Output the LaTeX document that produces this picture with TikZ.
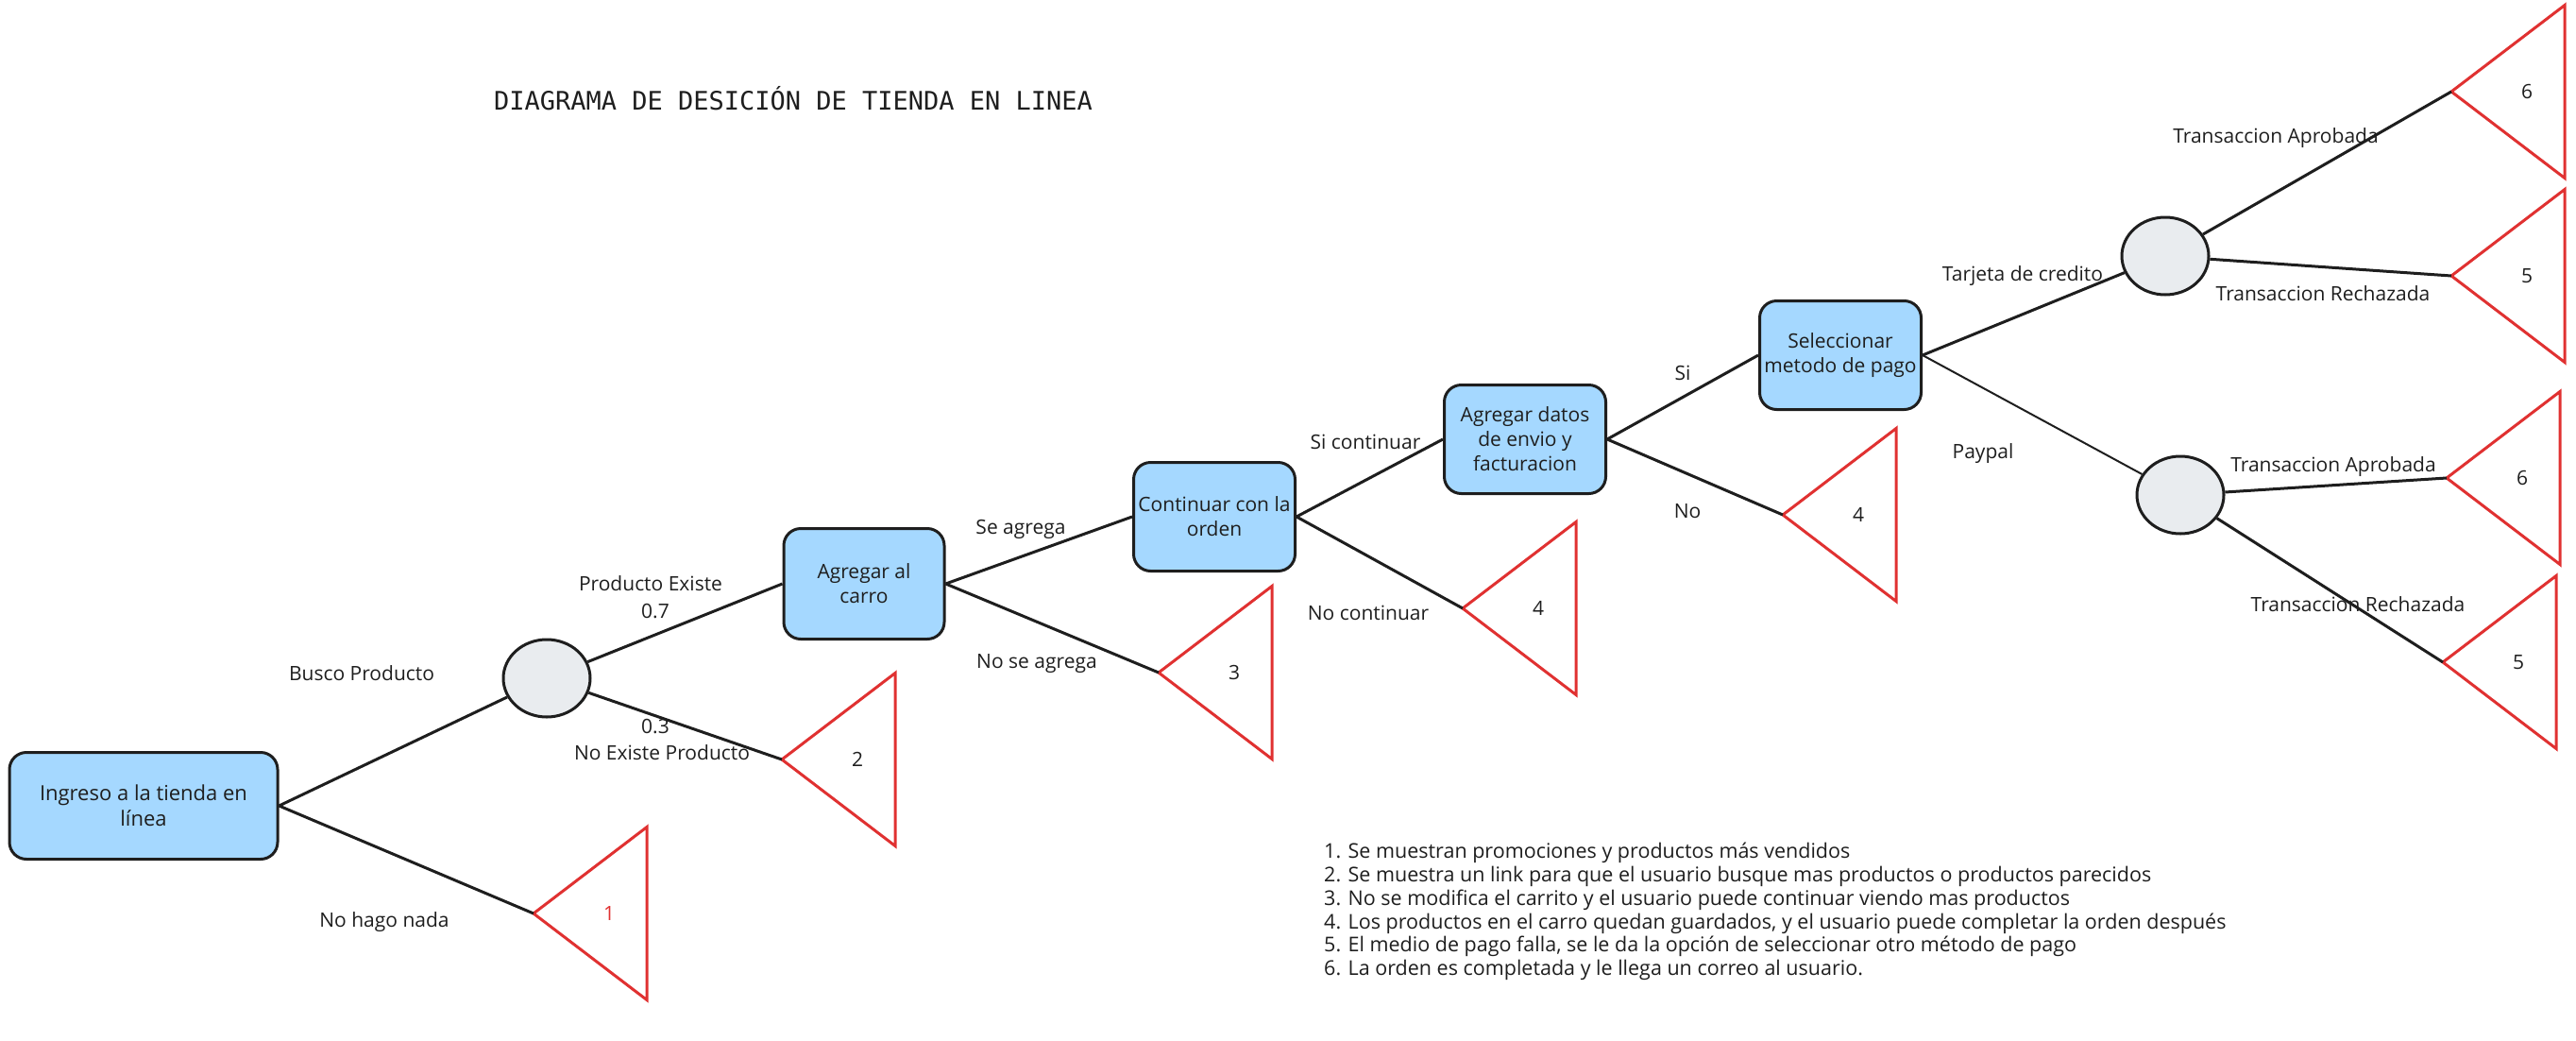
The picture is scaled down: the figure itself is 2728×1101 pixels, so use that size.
\documentclass[tikz,border=0pt]{standalone}
\usepackage{fontspec}
\setmainfont{Open Sans}
\newfontfamily\titlefont{DejaVu Sans Mono}
\usetikzlibrary{shapes.geometric}
\definecolor{boxblue}{HTML}{A5D8FF}
\definecolor{chancegray}{HTML}{E9ECEF}
\definecolor{leafred}{HTML}{E03131}
\definecolor{ink}{HTML}{1E1E1E}
\begin{document}
\begin{tikzpicture}[x=1pt, y=-1pt,
    font=\fontsize{21}{26}\selectfont,
    decision/.style={draw=ink, line width=3pt, fill=boxblue, rounded corners=18pt,
        minimum width=171pt, minimum height=115pt, align=center, text=ink, inner sep=3pt},
    chance/.style={draw=ink, line width=3pt, fill=chancegray, ellipse,
        minimum width=92pt, minimum height=82pt, inner sep=0pt},
    branch/.style={draw=ink, line width=3pt},
    leafline/.style={draw=leafred, line width=3pt},
    lbl/.style={text=ink, inner sep=0pt}]
    \useasboundingbox (0,0) rectangle (2728,1101);
    \node[lbl, font=\titlefont\fontsize{27}{32}\selectfont] (title) at (840,104) {DIAGRAMA DE DESICIÓN DE TIENDA EN LINEA};
    % decisions
    \node[decision, minimum width=284pt, minimum height=113pt, font=\fontsize{22}{27}\selectfont] (ingreso) at (152,853) {Ingreso a la tienda en\\línea};
    \node[decision, minimum width=170pt, minimum height=117pt] (carro) at (915,618) {Agregar al\\carro};
    \node[decision] (continuar) at (1286,547) {Continuar con la\\orden};
    \node[decision] (datos) at (1615,465) {Agregar datos\\de envio y\\facturacion};
    \node[decision] (metodo) at (1949,376) {Seleccionar\\metodo de pago};
    % chance nodes
    \node[chance] (busqueda) at (579,718) {};
    \node[chance] (tarjeta) at (2293,271) {};
    \node[chance] (paypal) at (2309,524) {};
    % outcomes
    \foreach \n/\x/\y/\num/\col in {1/565/967/1/leafred, 2/828/804/2/ink, 3/1227/712/3/ink,
        4a/1549/644/4/ink, 4b/1888/545/4/ink, 6a/2596/97/6/ink, 5a/2596/292/5/ink,
        6b/2591/506/6/ink, 5b/2587/701/5/ink} {
        \coordinate (leaf\n) at (\x,\y);
        \draw[leafline] (leaf\n) -- ++(120,-91.5) -- ++(0,183) -- cycle;
        \node[lbl, text=\col] (num\n) at ([xshift=80pt]leaf\n) {\num};
    }
    % branches
    \draw[branch] (ingreso.east) -- (busqueda);
    \draw[branch] (ingreso.east) -- (leaf1);
    \draw[branch] (busqueda) -- (carro.west);
    \draw[branch] (busqueda) -- (leaf2);
    \draw[branch] (carro.east) -- (continuar.west);
    \draw[branch] (carro.east) -- (leaf3);
    \draw[branch] (continuar.east) -- (datos.west);
    \draw[branch] (continuar.east) -- (leaf4a);
    \draw[branch] (datos.east) -- (metodo.west);
    \draw[branch] (datos.east) -- (leaf4b);
    \draw[branch] (metodo.east) -- (tarjeta);
    \draw[branch, line width=2pt] (metodo.east) -- (paypal);
    \draw[branch] (tarjeta) -- (leaf6a);
    \draw[branch] (tarjeta) -- (leaf5a);
    \draw[branch] (paypal) -- (leaf6b);
    \draw[branch] (paypal) -- (leaf5b);
    % branch labels
    \node[lbl] (lbusco) at (383,713) {Busco Producto};
    \node[lbl] (lnada) at (407,976) {No hago nada};
    \node[lbl] (lexiste) at (689,618) {Producto Existe};
    \node[lbl] (lsiete) at (694,647) {0.7};
    \node[lbl] (ltres) at (694,769) {0.3};
    \node[lbl] (lnoexiste) at (701,797) {No Existe Producto};
    \node[lbl] (lagrega) at (1081,560) {Se agrega};
    \node[lbl] (lnoagrega) at (1098,703) {No se agrega};
    \node[lbl] (lsicont) at (1446,468) {Si continuar};
    \node[lbl] (lnocont) at (1449,649) {No continuar};
    \node[lbl] (lsi) at (1782,395) {Si};
    \node[lbl] (lno) at (1787,541) {No};
    \node[lbl] (ltarjeta) at (2142,292) {Tarjeta de credito};
    \node[lbl] (lpaypal) at (2100,480) {Paypal};
    \node[lbl] (laprob) at (2410,146) {Transaccion Aprobada};
    \node[lbl] (lrech) at (2460,311) {Transaccion Rechazada};
    \node[lbl] (laprobp) at (2471,494) {Transaccion Aprobada};
    \node[lbl] (lrechp) at (2497,640) {Transaccion Rechazada};
    % notes
    \node[lbl, anchor=north west, align=left, font=\fontsize{21.5}{24.8}\selectfont] (notas) at (1402,892) {%
        1. Se muestran promociones y productos más vendidos\\
        2. Se muestra un link para que el usuario busque mas productos o productos parecidos\\
        3. No se modifica el carrito y el usuario puede continuar viendo mas productos\\
        4. Los productos en el carro quedan guardados, y el usuario puede completar la orden después\\
        5. El medio de pago falla, se le da la opción de seleccionar otro método de pago\\
        6. La orden es completada y le llega un correo al usuario.};
\end{tikzpicture}
\end{document}
